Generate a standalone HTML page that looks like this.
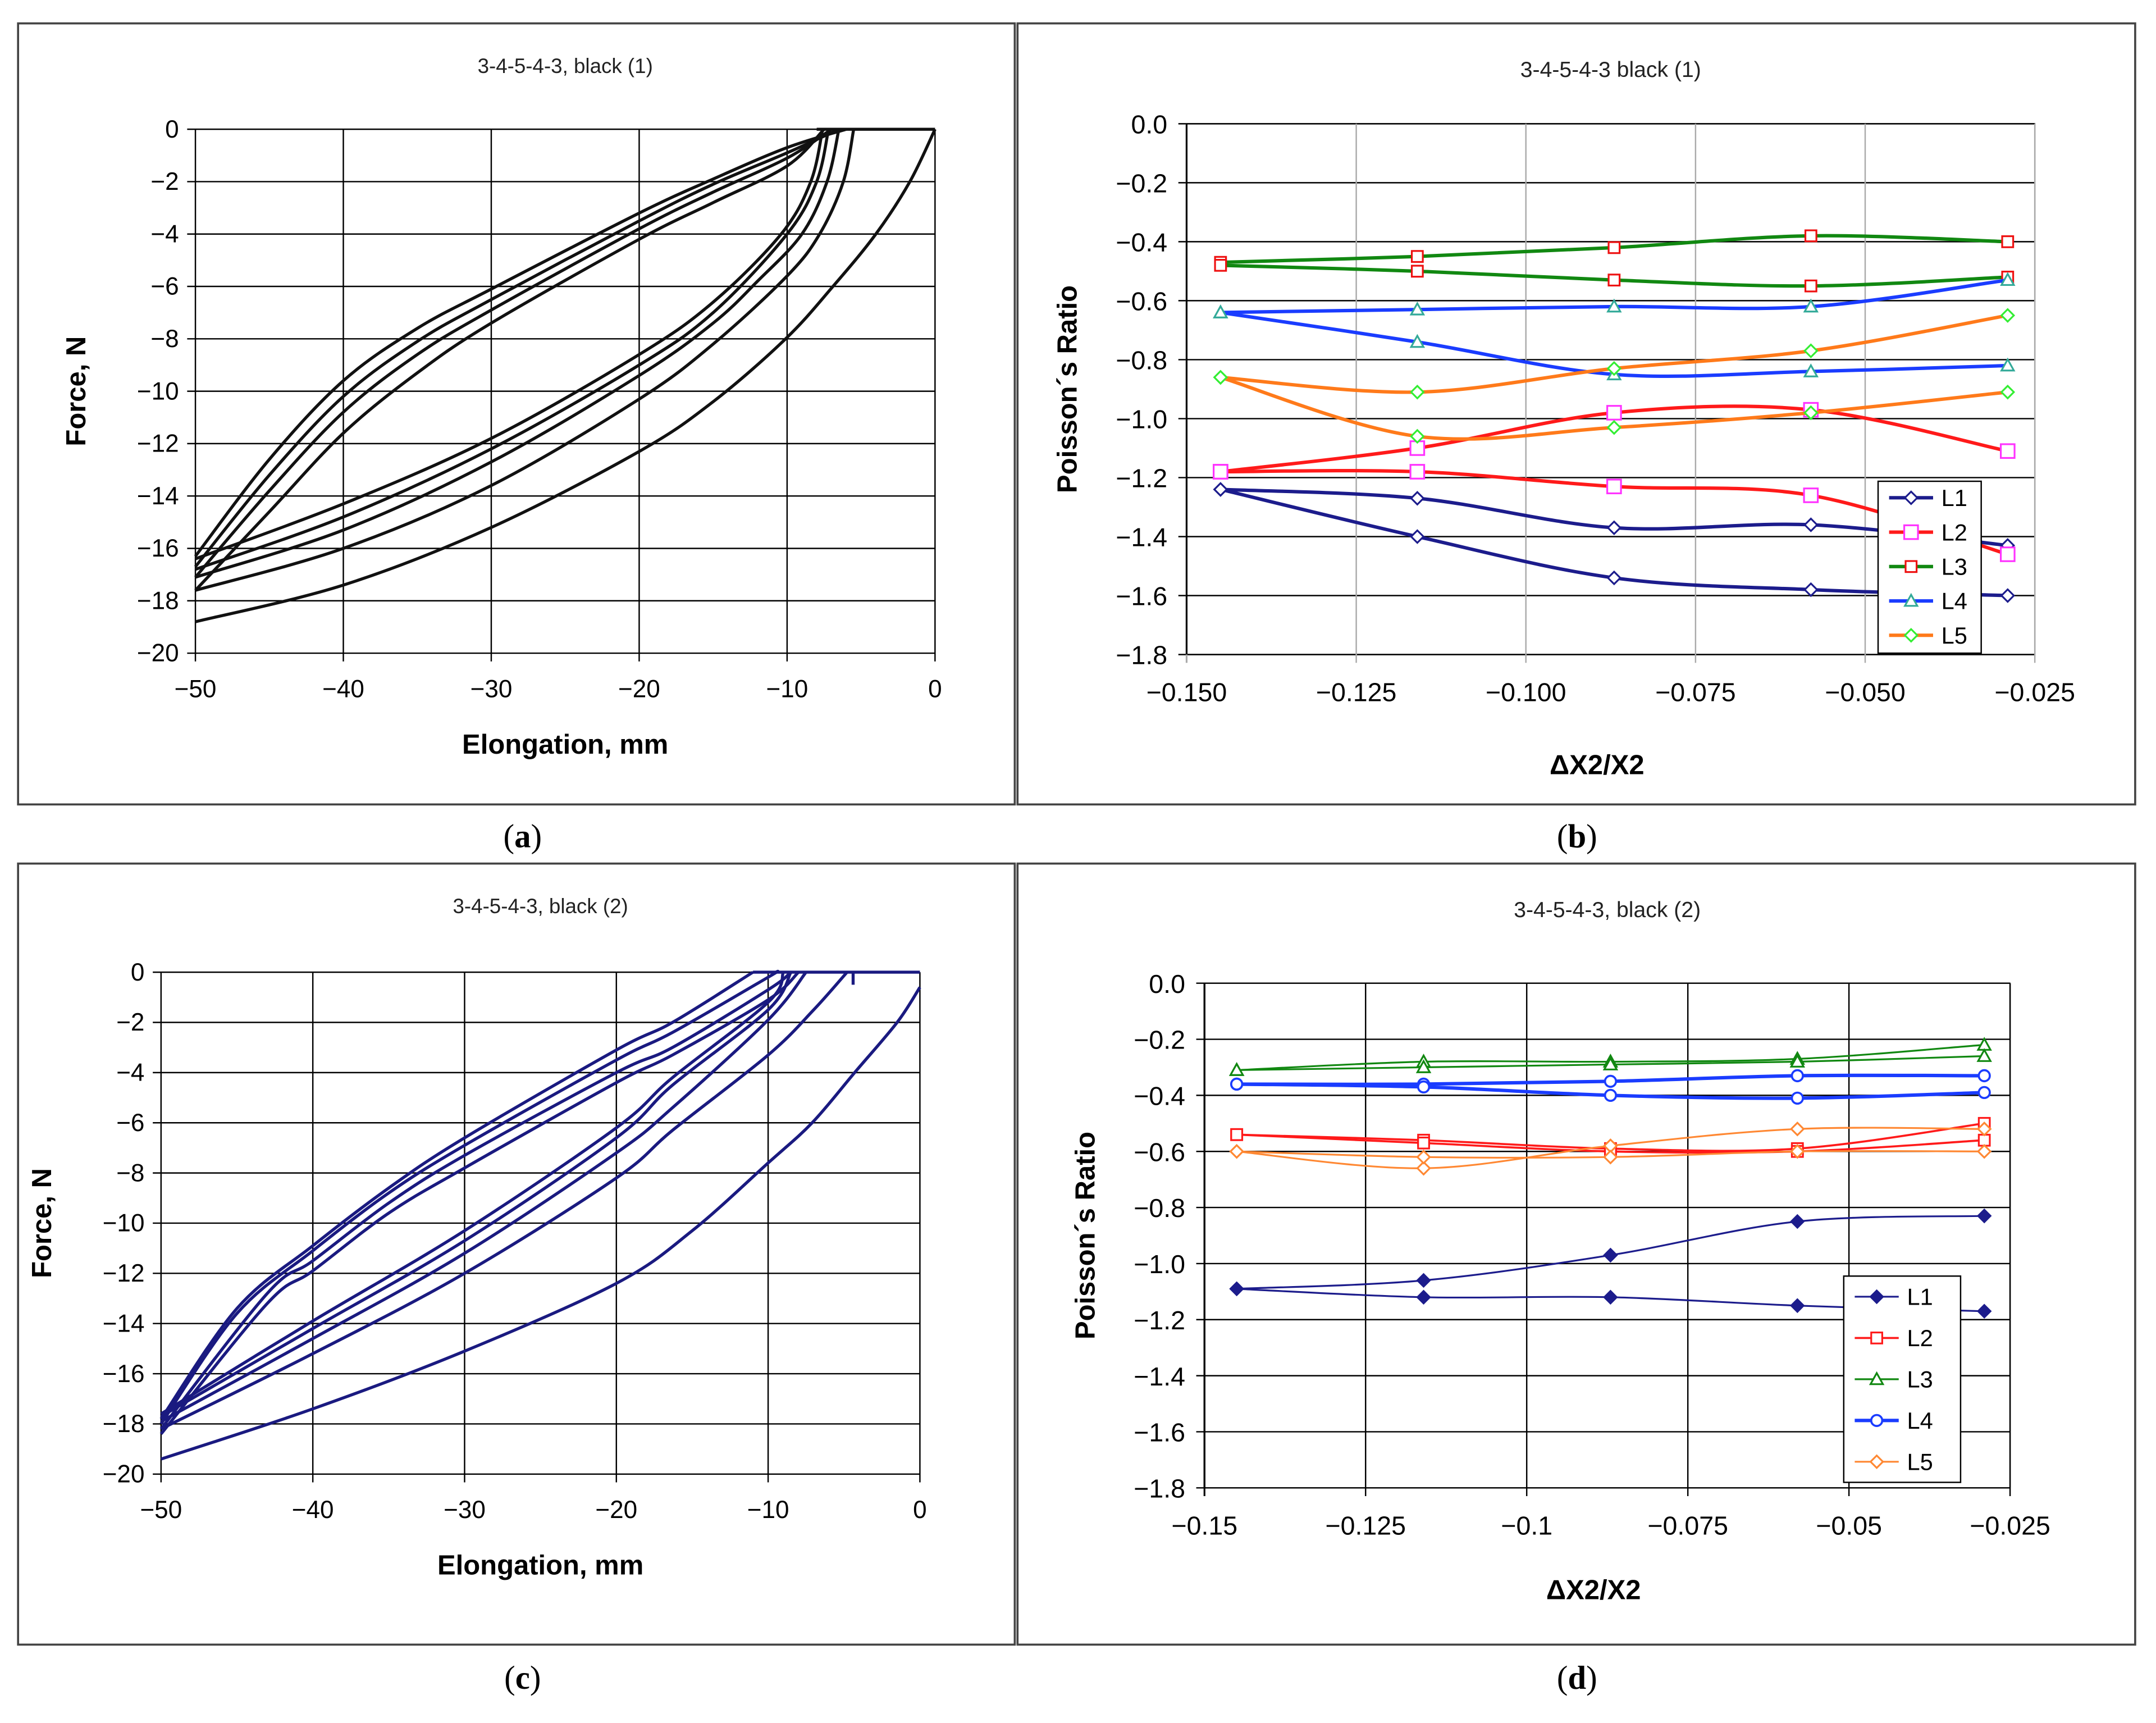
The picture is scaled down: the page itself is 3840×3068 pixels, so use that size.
<!DOCTYPE html>
<html><head><meta charset="utf-8"><style>
html,body{margin:0;padding:0;background:#fff}
svg{display:block}
text{font-family:"Liberation Sans",sans-serif}
</style></head><body>
<svg id="s" width="3840" height="3068" viewBox="0 0 1568 1253" xmlns="http://www.w3.org/2000/svg"></svg>
<script>
// ---------- data ----------
const aLoops = [
 [[0,0],[-1.7,-2],[-4,-4],[-6.9,-6],[-10.1,-8],[-15,-10.4],[-20,-12.3],[-30,-15.2],[-40,-17.4],[-50,-18.8]],
 [[-5.5,0],[-6.2,-2],[-7.8,-4],[-10,-5.6],[-15,-8.2],[-20,-10.3],[-30,-13.6],[-40,-16],[-50,-17.6]],
 [[-6.5,0],[-7.3,-2],[-9,-4],[-12,-5.8],[-15,-7.4],[-20,-9.4],[-30,-12.7],[-40,-15.3],[-50,-17.1]],
 [[-7.2,0],[-8,-2],[-10,-4],[-15,-7],[-20,-9],[-30,-12.2],[-40,-14.8],[-50,-16.8]],
 [[-7.6,0],[-8.4,-2],[-10.4,-4],[-15,-6.6],[-20,-8.6],[-30,-11.8],[-40,-14.3],[-50,-16.4]],
 [[-50,-16.3],[-45,-12.6],[-40,-9.6],[-35,-7.6],[-30,-6.1],[-20,-3.2],[-15,-1.9],[-10,-0.7],[-6,0]],
 [[-50,-16.7],[-45,-13.2],[-40,-10.2],[-35,-8.1],[-30,-6.5],[-20,-3.5],[-15,-2.1],[-10,-0.9],[-6.5,0]],
 [[-50,-17.1],[-45,-13.8],[-40,-10.8],[-35,-8.6],[-30,-6.9],[-20,-3.8],[-15,-2.4],[-10,-1.1],[-7,0]],
 [[-50,-17.6],[-45,-14.6],[-40,-11.6],[-35,-9.3],[-30,-7.4],[-20,-4.2],[-15,-2.8],[-10,-1.4],[-7.5,0]],
 [[-8,0],[0,0]]
];
const cLoops = [
 [[0,-0.6],[-1.5,-2],[-4.3,-4],[-7.1,-6],[-10,-7.6],[-15,-10.3],[-20,-12.4],[-30,-15.1],[-40,-17.4],[-50,-19.4]],
 [[-4.8,0],[-7,-1.5],[-10,-3.3],[-16.3,-6.3],[-20,-8.2],[-30,-12],[-40,-15.2],[-50,-18.2]],
 [[-7.5,0],[-10,-1.9],[-16.3,-5.4],[-20,-7.2],[-30,-11.2],[-40,-14.6],[-50,-17.9]],
 [[-8.5,0],[-10,-1.5],[-16.3,-4.5],[-20,-6.6],[-30,-10.7],[-40,-14.2],[-50,-17.7]],
 [[-9,0],[-10,-1.2],[-16.3,-4.2],[-20,-6.2],[-30,-10.3],[-40,-13.9],[-50,-17.6]],
 [[-50,-17.8],[-45,-13.4],[-40,-10.9],[-35,-8.6],[-30,-6.6],[-20,-3.1],[-16.3,-2.0],[-11,0]],
 [[-50,-18.0],[-45,-13.6],[-40,-11.1],[-35,-8.8],[-30,-6.9],[-20,-3.5],[-16.3,-2.4],[-10,-0.2],[-9.5,0]],
 [[-50,-18.2],[-43,-12.8],[-40,-11.5],[-35,-9.2],[-30,-7.3],[-20,-4.0],[-16.3,-3.0],[-10,-0.7],[-8.5,0]],
 [[-50,-18.4],[-43,-13.2],[-40,-11.9],[-35,-9.6],[-30,-7.8],[-20,-4.4],[-16.3,-3.3],[-10,-1.1],[-8,0]],
 [[-11,0],[0,0]],
 [[-4.4,0],[-4.4,-0.5]]
];
const bX = [-0.145,-0.116,-0.087,-0.058,-0.029];
const bL1a=[-1.24,-1.27,-1.37,-1.36,-1.43], bL1b=[-1.24,-1.40,-1.54,-1.58,-1.60];
const bL2a=[-1.18,-1.10,-0.98,-0.97,-1.11], bL2b=[-1.18,-1.18,-1.23,-1.26,-1.46];
const bL3a=[-0.47,-0.45,-0.42,-0.38,-0.40], bL3b=[-0.48,-0.50,-0.53,-0.55,-0.52];
const bL4a=[-0.64,-0.63,-0.62,-0.62,-0.53], bL4b=[-0.64,-0.74,-0.85,-0.84,-0.82];
const bL5a=[-0.86,-0.91,-0.83,-0.77,-0.65], bL5b=[-0.86,-1.06,-1.03,-0.98,-0.91];
const dX = [-0.145,-0.116,-0.087,-0.058,-0.029];
const dL1a=[-1.09,-1.06,-0.97,-0.85,-0.83], dL1b=[-1.09,-1.12,-1.12,-1.15,-1.17];
const dL2a=[-0.54,-0.56,-0.59,-0.59,-0.50], dL2b=[-0.54,-0.57,-0.60,-0.60,-0.56];
const dL3a=[-0.31,-0.28,-0.28,-0.27,-0.22], dL3b=[-0.31,-0.30,-0.29,-0.28,-0.26];
const dL4a=[-0.36,-0.36,-0.35,-0.33,-0.33], dL4b=[-0.36,-0.37,-0.40,-0.41,-0.39];
const dL5a=[-0.60,-0.66,-0.58,-0.52,-0.52], dL5b=[-0.60,-0.62,-0.62,-0.60,-0.60];
const forceTicks=[0,-2,-4,-6,-8,-10,-12,-14,-16,-18,-20];
const elongTicks=[-50,-40,-30,-20,-10,0];
const prTicks=[0,-0.2,-0.4,-0.6,-0.8,-1.0,-1.2,-1.4,-1.6,-1.8];
const bXTicks=["−0.150","−0.125","−0.100","−0.075","−0.050","−0.025"];
const dXTicks=["−0.15","−0.125","−0.1","−0.075","−0.05","−0.025"];
const legendNames=["L1","L2","L3","L4","L5"];
// ---------- helpers ----------
const S=document.getElementById('s'),NS="http://www.w3.org/2000/svg";
function mk(t,a,p){const e=document.createElementNS(NS,t);for(const k in a)e.setAttribute(k,a[k]);(p||S).appendChild(e);return e;}
function txt(x,y,s,a,p){const e=mk('text',Object.assign({x:x,y:y},a),p);e.textContent=s;return e;}
function smooth(pts){let d="M"+pts[0][0]+","+pts[0][1];for(let i=0;i<pts.length-1;i++){const p0=pts[i-1]||pts[i],p1=pts[i],p2=pts[i+1],p3=pts[i+2]||p2;
 d+=" C"+(p1[0]+(p2[0]-p0[0])/6)+","+(p1[1]+(p2[1]-p0[1])/6)+" "+(p2[0]-(p3[0]-p1[0])/6)+","+(p2[1]-(p3[1]-p1[1])/6)+" "+p2[0]+","+p2[1];}return d;}
function marker(g,type,x,y,col,fill,r){
 if(type==='d'){const m=mk('polygon',{points:`${x},${y-r} ${x+r},${y} ${x},${y+r} ${x-r},${y}`,fill:fill,stroke:col,'stroke-width':1.3},g);}
 else if(type==='s'){const m=mk('rect',{x:x-r,y:y-r,width:2*r,height:2*r,fill:fill,stroke:col,'stroke-width':1.3},g);}
 else if(type==='t'){const m=mk('polygon',{points:`${x},${y-r} ${x+r},${y+r*0.8} ${x-r},${y+r*0.8}`,fill:fill,stroke:col,'stroke-width':1.3},g);}
 else {const m=mk('circle',{cx:x,cy:y,r:r,fill:fill,stroke:col,'stroke-width':1.5},g);}
}
// panel frames
[[13,17,725,568,'panel-a'],[740,17,813,568,'panel-b'],[13,628,725,568,'panel-c'],[740,628,813,568,'panel-d']].forEach(p=>{
 const r=mk('rect',{x:p[0],y:p[1],width:p[2],height:p[3],fill:'none',stroke:'#444','stroke-width':1.5});
 });
[[380,616,'a'],[1147,616,'b'],[380,1228,'c'],[1147,1228,'d']].forEach(l=>{
 const t=mk('text',{x:l[0],y:l[1],'text-anchor':'middle','font-size':24,style:'font-family:"Liberation Serif",serif'});
 
 t.appendChild(document.createTextNode('('));
 const b=mk('tspan',{'font-weight':'bold'},t);b.textContent=l[2];
 t.appendChild(document.createTextNode(')'));});
// ---------- force charts ----------
function forceChart(o){
 const X=v=>o.x0+(v+50)/50*(o.x1-o.x0), Y=v=>o.y0+(-v)/20*(o.y1-o.y0);
 const g=mk('g',{});
 forceTicks.forEach(t=>{const l=mk('line',{x1:o.x0-6,x2:o.x1,y1:Y(t),y2:Y(t),stroke:'#000','stroke-width':1},g);
  const tt=txt(o.x0-12,Y(t)+6,String(t).replace('-','−'),{'text-anchor':'end','font-size':18},g);});
 elongTicks.forEach(t=>{const l=mk('line',{x1:X(t),x2:X(t),y1:o.y0,y2:o.y1+6,stroke:'#000','stroke-width':1},g);
  const tt=txt(X(t),o.y1+32,String(t).replace('-','−'),{'text-anchor':'middle','font-size':18},g);});
 o.loops.forEach(L=>{const p=mk('path',{d:smooth(L.map(q=>[X(q[0]),Y(q[1])])),fill:'none',stroke:o.col,'stroke-width':2.2},g);});
 const ti=txt((o.x0+o.x1)/2,o.ty,o.title,{'text-anchor':'middle','font-size':15,fill:'#222'},g);
 const yl=txt(0,0,'Force, N',{'text-anchor':'middle','font-size':20,'font-weight':'bold',transform:`translate(${o.x0-80},${(o.y0+o.y1)/2}) rotate(-90)`},g);
 const xl=txt((o.x0+o.x1)/2,o.y1+73,'Elongation, mm',{'text-anchor':'middle','font-size':20,'font-weight':'bold'},g);
}
forceChart({name:'chart-a',x0:142,x1:680,y0:94,y1:475,loops:aLoops,col:'#111',title:'3-4-5-4-3,  black (1)',ty:53});
forceChart({name:'chart-c',x0:117,x1:669,y0:707,y1:1072,loops:cLoops,col:'#1a1a80',title:'3-4-5-4-3,  black (2)',ty:664});
// ---------- poisson charts ----------
function prChart(o){
 const X=v=>o.x0+(v+0.15)/0.125*(o.x1-o.x0), Y=v=>o.y0+(-v)/1.8*(o.y1-o.y0);
 const g=mk('g',{});
 mk('rect',{x:o.x0,y:o.y0,width:o.x1-o.x0,height:o.y1-o.y0,fill:'none',stroke:'#888','stroke-width':1},g);
 prTicks.forEach(t=>{const l=mk('line',{x1:o.x0-6,x2:o.x1,y1:Y(t),y2:Y(t),stroke:'#000','stroke-width':1},g);
  const tt=txt(o.x0-14,Y(t)+7,t.toFixed(1).replace('-','−'),{'text-anchor':'end','font-size':19},g);});
 o.xt.forEach((t,i)=>{const x=o.x0+i*(o.x1-o.x0)/5;const l=mk('line',{x1:x,x2:x,y1:o.y0,y2:o.y1+6,stroke:o.vg,'stroke-width':i==0?1.3:1},g);
  const tt=txt(x,o.y1+34,t,{'text-anchor':'middle','font-size':19},g);});
 mk('line',{x1:o.x0,x2:o.x0,y1:o.y0,y2:o.y1,stroke:'#000','stroke-width':1.3},g);
 o.series.forEach(s=>{[s.a,s.b].forEach(arr=>{const pts=o.xs.map((x,i)=>[X(x),Y(arr[i])]);
   const p=mk('path',{d:smooth(pts),fill:'none',stroke:s.lc,'stroke-width':s.w},g);
   pts.forEach(q=>marker(g,s.m,q[0],q[1],s.mc,s.mf,s.r));});});
 const lg=mk('g',{},g);
 mk('rect',{x:o.lx,y:o.ly,width:o.lw,height:o.lh,fill:'#fff',stroke:'#000','stroke-width':1},lg);
 o.series.forEach((s,i)=>{const y=o.ly+o.le0+i*o.ld;const e=mk('g',{},lg);
  mk('line',{x1:o.lx+8,x2:o.lx+40,y1:y,y2:y,stroke:s.lc,'stroke-width':s.w},e);marker(e,s.m,o.lx+24,y,s.mc,s.mf,s.r);
  txt(o.lx+46,y+6,legendNames[i],{'font-size':17},e);});
 const ti=txt((o.x0+o.x1)/2,o.ty,o.title,{'text-anchor':'middle','font-size':16,fill:'#222'},g);
 const yl=txt(0,0,'Poisson´s Ratio',{'text-anchor':'middle','font-size':20,'font-weight':'bold',transform:`translate(${o.x0-80},${(o.y0+o.y1)/2}) rotate(-90)`},g);
 const xl=txt((o.x0+o.x1)/2-10,o.xly,'ΔX2/X2',{'text-anchor':'middle','font-size':20,'font-weight':'bold'},g);
}
prChart({name:'chart-b',x0:863,x1:1480,y0:90,y1:476,xs:bX,xt:bXTicks,vg:'#aaa',title:'3-4-5-4-3 black (1)',ty:56,xly:563,
 lx:1366,ly:350,lw:75,lh:125,le0:12,ld:25,
 series:[{n:'L1',a:bL1a,b:bL1b,lc:'#1c1c8c',mc:'#1c1c8c',mf:'#fff',m:'d',r:4.5,w:2.5},
  {n:'L2',a:bL2a,b:bL2b,lc:'#ff1a1a',mc:'#ff33ff',mf:'#fff',m:'s',r:5,w:2.5},
  {n:'L3',a:bL3a,b:bL3b,lc:'#118811',mc:'#ee1111',mf:'#fff',m:'s',r:4,w:2.5},
  {n:'L4',a:bL4a,b:bL4b,lc:'#1a3cff',mc:'#33aa99',mf:'#fff',m:'t',r:4.5,w:2.5},
  {n:'L5',a:bL5a,b:bL5b,lc:'#ff7a1a',mc:'#33ee33',mf:'#fff',m:'d',r:4.5,w:2.5}]});
prChart({name:'chart-d',x0:876,x1:1462,y0:715,y1:1082,xs:dX,xt:dXTicks,vg:'#000',title:'3-4-5-4-3,  black (2)',ty:667,xly:1163,
 lx:1341,ly:928,lw:85,lh:150,le0:15,ld:30,
 series:[{n:'L1',a:dL1a,b:dL1b,lc:'#1c1c8c',mc:'#1c1c8c',mf:'#1c1c8c',m:'d',r:4.5,w:1.3},
  {n:'L2',a:dL2a,b:dL2b,lc:'#ff1a1a',mc:'#ff1a1a',mf:'#fff',m:'s',r:4,w:1.5},
  {n:'L3',a:dL3a,b:dL3b,lc:'#118811',mc:'#118811',mf:'#fff',m:'t',r:4.5,w:1.3},
  {n:'L4',a:dL4a,b:dL4b,lc:'#1a3cff',mc:'#1a3cff',mf:'#fff',m:'c',r:4,w:2.5},
  {n:'L5',a:dL5a,b:dL5b,lc:'#ff8833',mc:'#ff8833',mf:'#fff',m:'d',r:4.5,w:1.3}]});
</script>
</body></html>
